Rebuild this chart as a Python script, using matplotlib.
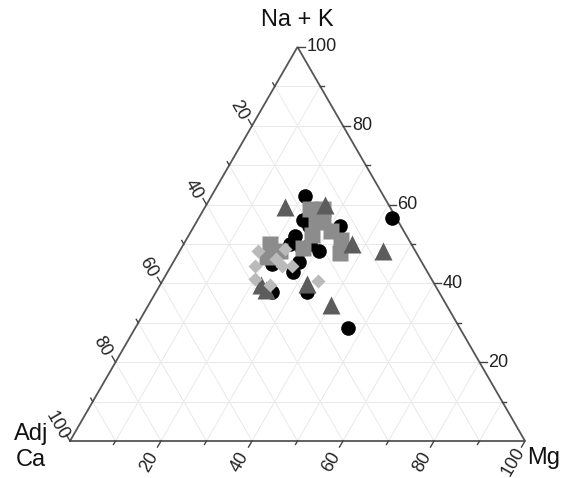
import numpy as np
import matplotlib
matplotlib.use("Agg")
import matplotlib.pyplot as plt

plt.rcParams['font.family'] = ['Liberation Sans', 'DejaVu Sans']

# Ternary composition (percent): Adj Ca, Mg, Na + K
circ_ca = [17.3, 1.0, 20.7, 20.2, 13.4, 24.6, 26.6, 21.2, 31.5, 33.2, 29.5, 24.7, 36.7, 29.0, 24.5, 22.3, 27.0]
circ_mg = [20.4, 42.4, 23.1, 25.3, 32.1, 23.5, 23.5, 30.7, 19.4, 22.0, 27.5, 26.7, 25.6, 33.3, 46.7, 27.8, 27.5]
circ_nak = [62.3, 56.6, 56.2, 54.5, 54.5, 51.9, 49.9, 48.1, 49.1, 44.8, 43.0, 48.6, 37.7, 37.7, 28.8, 49.9, 45.5]

sq_ca = [17.9, 15.0, 16.6, 20.6, 16.0, 14.9, 16.8, 24.3, 31.0, 33.4, 29.7, 17.9]
sq_mg = [23.3, 26.2, 27.9, 27.0, 30.8, 34.0, 35.4, 26.6, 19.1, 20.0, 22.2, 26.1]
sq_nak = [58.8, 58.8, 55.5, 52.4, 53.2, 51.1, 47.8, 49.1, 49.9, 46.6, 48.1, 56.0]

tri_ca = [23.0, 14.1, 13.0, 7.1, 25.4, 28.0, 38.1, 37.8]
tri_mg = [17.7, 26.1, 37.1, 44.8, 40.2, 32.1, 22.2, 24.0]
tri_nak = [59.3, 59.8, 49.9, 48.1, 34.4, 39.9, 39.7, 38.2]

dia_ca = [34.6, 28.4, 37.1, 31.2, 29.0, 38.7, 36.1, 25.2, 31.6]
dia_mg = [17.1, 23.0, 18.6, 24.5, 26.7, 20.1, 24.2, 34.3, 22.3]
dia_nak = [48.3, 48.6, 44.3, 44.3, 44.3, 41.2, 39.7, 40.5, 46.1]

ticks = [0, 10, 20, 30, 40, 50, 60, 70, 80, 90, 100]

H = np.sqrt(3) / 2


def tern(ca, mg, nak):
    ca, mg, nak = (np.asarray(v, float) for v in (ca, mg, nak))
    tot = ca + mg + nak
    return (mg + nak / 2) / tot, nak * H / tot


fig = plt.figure(figsize=(5.78, 4.78), dpi=100)
ax = fig.add_axes([0, 0, 1, 1])
ax.set_xlim(-70 / 455, 508 / 455)
ax.set_ylim(-37 / 455, 441 / 455)
ax.set_aspect('auto')
ax.axis('off')

grid_kw = dict(color='#e9e9e9', lw=0.7, zorder=1)
for t in ticks[1:-1]:
    # constant Na + K (horizontal)
    x, y = tern([100 - t, 0], [0, 100 - t], [t, t]); ax.plot(x, y, **grid_kw)
    # constant Mg
    x, y = tern([100 - t, 0], [t, t], [0, 100 - t]); ax.plot(x, y, **grid_kw)
    # constant Ca
    x, y = tern([t, t], [100 - t, 0], [0, 100 - t]); ax.plot(x, y, **grid_kw)

# triangle frame
x, y = tern([100, 0, 0, 100], [0, 100, 0, 0], [0, 0, 100, 0])
ax.plot(x, y, color='#555555', lw=1.3, zorder=2, solid_joinstyle='miter')

tick_kw = dict(color='#444444', lw=1.0, zorder=2)
lab_kw = dict(fontsize=13, color='#222222')
for t in ticks[1:]:
    major = t % 20 == 0
    L = (7 if major else 4) / 455
    # bottom axis (Mg): ticks point down-left
    bx, by = tern(100 - t, t, 0)
    ax.plot([bx, bx - 0.5 * L], [by, by - H * L], **tick_kw)
    # right axis (Na + K): ticks point right
    rx, ry = tern(0, 100 - t, t)
    ax.plot([rx, rx + L], [ry, ry], **tick_kw)
    # left axis (Adj Ca): ticks point up-left
    lx, ly = tern(t, 0, 100 - t)
    ax.plot([lx, lx - 0.5 * L], [ly, ly + H * L], **tick_kw)
    if major:
        lab = str(t)
        d = 24 / 455
        ax.text(bx - 0.5 * d, by - H * d, lab, rotation=60,
                ha='center', va='center', rotation_mode='anchor', **lab_kw)
        ax.text(rx + 9 / 455, ry, lab, ha='left', va='center', **lab_kw)
        d = 18 / 455
        ax.text(lx - 0.5 * d - 4 / 455, ly + H * d, lab, rotation=-60,
                ha='center', va='center', rotation_mode='anchor', **lab_kw)

# axis titles
title_kw = dict(fontsize=17, color='#111111')
ax.text(0.5, H + 27 / 455, "Na + K", ha='center', va='center', **title_kw)
ax.text(1 + 2 / 455, -17 / 455, "Mg", ha='left', va='center', **title_kw)
ax.text(-39 / 455, -6 / 455, "Adj\nCa", ha='center', va='center',
        linespacing=1.25, **title_kw)

# samples
x, y = tern(circ_ca, circ_mg, circ_nak)
ax.plot(x, y, 'o', ms=10.5, color='#000000', mec='none', zorder=3)
x, y = tern(sq_ca, sq_mg, sq_nak)
ax.plot(x, y, 's', ms=11.5, color='#8c8c8c', mec='none', zorder=4)
x, y = tern(tri_ca, tri_mg, tri_nak)
ax.plot(x, y, '^', ms=13, color='#5c5c5c', mec='none', zorder=5)
x, y = tern(dia_ca, dia_mg, dia_nak)
ax.plot(x, y, 'D', ms=7.6, color='#bababa', mec='none', zorder=6)

fig.savefig("out.png", dpi=100)
